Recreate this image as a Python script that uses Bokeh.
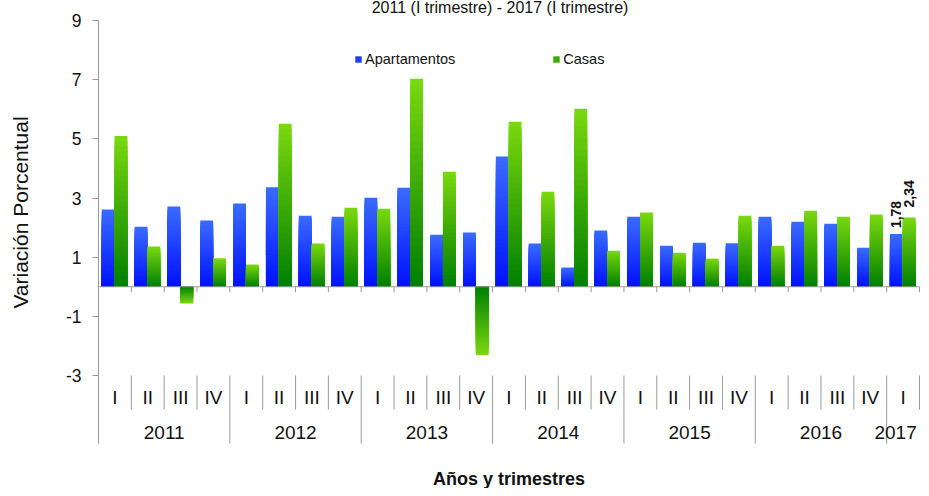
import math
from bokeh.plotting import figure
from bokeh.models import (ColumnDataSource, Range1d, LinearAxis, FixedTicker,
                          Legend, LegendItem)
from bokeh.core.properties import value
from bokeh.embed import file_html
from bokeh.resources import INLINE

# ---------------- data ----------------
years = ["2011", "2012", "2013", "2014", "2015", "2016", "2017"]
quarters = ["I", "II", "III", "IV"] * 6 + ["I"]
apartamentos = [2.61, 2.03, 2.71, 2.24, 2.81, 3.36, 2.40, 2.37,
                3.01, 3.35, 1.76, 1.83, 4.40, 1.46, 0.65, 1.90,
                2.37, 1.39, 1.49, 1.47, 2.37, 2.20, 2.13, 1.32, 1.78]
casas = [5.10, 1.36, -0.57, 0.96, 0.75, 5.51, 1.46, 2.67,
         2.64, 7.03, 3.89, -2.31, 5.58, 3.21, 6.02, 1.22,
         2.51, 1.15, 0.95, 2.40, 1.39, 2.57, 2.37, 2.44, 2.34]
y_ticks = [-3, -1, 1, 3, 5, 7, 9]
title_text = "2011 (I trimestre) - 2017 (I trimestre)"
y_title = "Variación Porcentual"
x_title = "Años y trimestres"
series_names = ["Apartamentos", "Casas"]

FONT = "Liberation Sans"

# ---------------- geometry ----------------
W, H = 921, 488
n_cat = len(quarters)
LX, RX = 98, 919                 # frame edges of the category area (px)
XPX = (RX - LX) / n_cat          # pixels per category
YPX = 355.0 / 12.0               # pixels per unit
x0 = -LX / XPX
x1 = n_cat + (W - RX) / XPX
y1 = 9 + 20 / YPX
y0 = 9 - (H - 20) / YPX


def ydat(py):
    return 9 - (py - 20) / YPX


def xcat(ref_px):
    # horizontal position expressed in category units
    return (ref_px - 100) / 32.96


p = figure(width=W, height=H, x_range=Range1d(x0, x1), y_range=Range1d(y0, y1),
           x_axis_type=None, y_axis_type=None, output_backend="svg",
           toolbar_location=None, min_border=0)
p.outline_line_color = None
p.background_fill_color = "white"
p.border_fill_color = "white"


def hex2rgb(h):
    h = h.lstrip("#")
    return tuple(int(h[i:i + 2], 16) for i in (0, 2, 4))


def mix(c0, c1, t):
    a, b = hex2rgb(c0), hex2rgb(c1)
    return "#%02x%02x%02x" % tuple(int(round(a[i] + (b[i] - a[i]) * t)) for i in range(3))


def gradient_source(xs, vals, dark, light, n=30):
    d = dict(x=[], bottom=[], top=[], color=[])
    for xi, v in zip(xs, vals):
        for j in range(n, 0, -1):
            d["x"].append(xi)
            d["bottom"].append(0.0)
            d["top"].append(v * j / n)
            d["color"].append(mix(dark, light, (j - 0.5) / n))
    return ColumnDataSource(d)


N = 30
idx = list(range(n_cat))
src_apt = gradient_source([i + 0.295 for i in idx], apartamentos, "#0010ff", "#3a6cff", N)
src_cas = gradient_source([i + 0.685 for i in idx], casas, "#007f00", "#7ad80e", N)

r_apt = p.vbar(x="x", bottom="bottom", top="top", width=0.39, source=src_apt,
               fill_color="color", line_color=None)
r_cas = p.vbar(x="x", bottom="bottom", top="top", width=0.39, source=src_cas,
               fill_color="color", line_color=None)

# zero axis with category ticks
AX = "#9a9a9a"
p.segment(x0=[0], y0=[0], x1=[n_cat], y1=[0], line_color=AX, line_width=1)
p.segment(x0=list(range(n_cat + 1)), y0=[0] * (n_cat + 1),
          x1=list(range(n_cat + 1)), y1=[-5.5 / YPX] * (n_cat + 1),
          line_color=AX, line_width=1)

# y axis
yaxis = LinearAxis(fixed_location=0, bounds=(-3, 9), ticker=FixedTicker(ticks=y_ticks),
                   major_tick_out=6, major_tick_in=0, minor_tick_out=0, minor_tick_in=0,
                   axis_line_color=AX, major_tick_line_color=AX,
                   major_label_standoff=11, major_label_text_font=FONT,
                   major_label_text_font_size="17.5px", major_label_text_color="#111111",
                   major_label_overrides={t: str(t) for t in y_ticks})
p.add_layout(yaxis, "left")

# category separators below the plot
sep_x, sep_y1 = [], []
for k in range(n_cat + 1):
    sep_x.append(k)
    sep_y1.append(ydat(443) if (k % 4 == 0 and k < n_cat) else ydat(409))
p.segment(x0=sep_x, y0=[-3] * len(sep_x), x1=sep_x, y1=sep_y1, line_color=AX, line_width=1)

# quarter labels
p.text(x=[i + 0.5 for i in idx], y=[ydat(397)] * n_cat, text=quarters,
       text_font=value(FONT), text_font_size="19px", text_color="#111111",
       text_align="center", text_baseline="middle")

# year labels (the last, one-quarter group is nudged left so it fits, as in the original)
year_x = []
for k, yname in enumerate(years):
    start = 4 * k
    end = min(4 * k + 4, n_cat)
    year_x.append((start + end) / 2)
year_x[-1] = min(year_x[-1], xcat(900))
p.text(x=year_x, y=[ydat(432)] * len(years), text=years,
       text_font=value(FONT), text_font_size="19px", text_color="#111111",
       text_align="center", text_baseline="middle")

# titles
p.text(x=[xcat(503)], y=[ydat(7)], text=[title_text], text_font=value(FONT),
       text_font_size="16px", text_color="#111111", text_align="center",
       text_baseline="middle")
p.text(x=[xcat(22)], y=[ydat(212)], text=[y_title], angle=math.pi / 2,
       text_font=value(FONT), text_font_size="21px", text_color="#111111",
       text_align="center", text_baseline="middle")
p.text(x=[xcat(512)], y=[ydat(478)], text=[x_title], text_font=value(FONT),
       text_font_size="18px", text_font_style="bold", text_color="#111111",
       text_align="center", text_baseline="middle")

# data labels for last quarter
last = n_cat - 1
lab_src = ColumnDataSource(dict(
    x=[last + 0.295, last + 0.685],
    y=[apartamentos[last], casas[last]],
    t=[("%.2f" % apartamentos[last]).replace(".", ","), ("%.2f" % casas[last]).replace(".", ",")],
    off=[-6, -10]))
p.text(x="x", y="y", text="t", y_offset="off", source=lab_src, angle=math.pi / 2,
       text_font=value(FONT), text_font_size="14px", text_font_style="bold",
       text_color="#111111", text_align="left", text_baseline="middle")

# legend
leg_x = int(round(LX + xcat(357) * XPX))
legend = Legend(items=[LegendItem(label=series_names[0], renderers=[r_apt], index=N // 2),
                       LegendItem(label=series_names[1], renderers=[r_cas], index=N // 2)],
                orientation="horizontal", location=(leg_x, H - 67), spacing=97, padding=0,
                margin=0, glyph_width=8, glyph_height=8, label_standoff=3,
                label_height=14, label_text_font=FONT, label_text_font_size="14.5px",
                label_text_color="#111111", border_line_color=None,
                background_fill_alpha=0)
p.add_layout(legend)

open("out.html", "w").write(file_html(p, INLINE))
